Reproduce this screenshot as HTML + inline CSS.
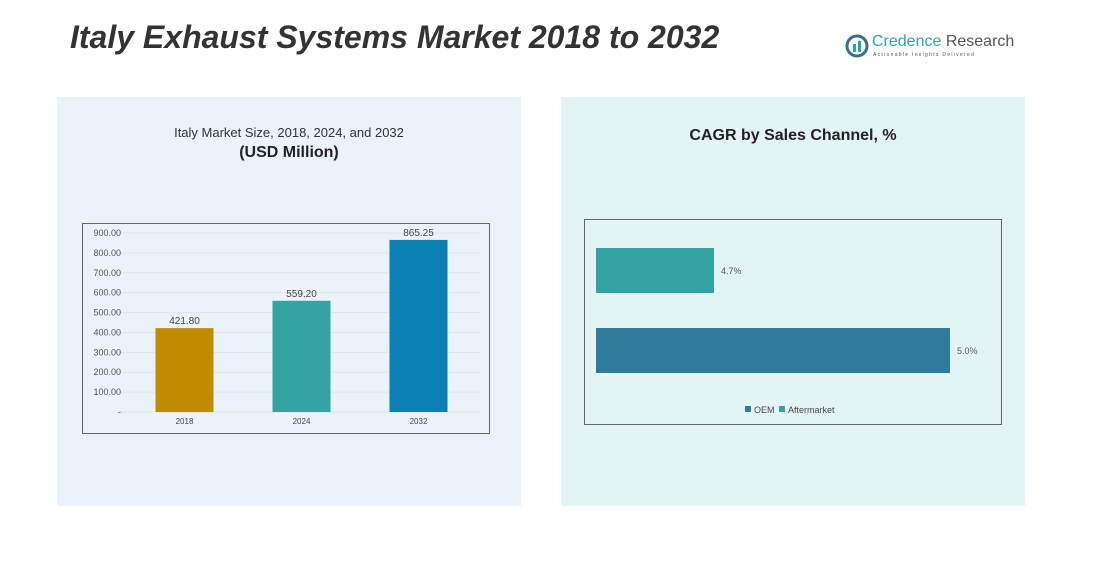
<!DOCTYPE html>
<html><head><meta charset="utf-8"><style>
body{margin:0;width:1116px;height:582px;background:#fff;font-family:"Liberation Sans",sans-serif;position:relative;overflow:hidden}
.abs{position:absolute}
</style></head><body>
<div class="abs" style="left:70px;top:19px;font-size:32px;font-weight:bold;font-style:italic;color:#333">Italy Exhaust Systems Market 2018 to 2032</div>
<div class="abs" style="left:845px;top:32px;">
 <svg width="24" height="24" style="position:absolute;left:0;top:2px"><circle cx="12" cy="12" r="10" fill="none" stroke="#3a6f86" stroke-width="3"/><rect x="8" y="10" width="3" height="8" fill="#2ba3b5"/><rect x="13" y="7" width="3" height="11" fill="#2ba3b5"/></svg>
 <div style="position:absolute;left:27px;top:1px;font-size:16px;color:#2ba3b5;white-space:nowrap">Credence <span style="color:#555">Research</span></div>
 <div style="position:absolute;left:28px;top:20px;font-size:5px;letter-spacing:1.3px;color:#555;white-space:nowrap">Actionable Insights Delivered</div>
</div>
<div class="abs" style="left:57px;top:97px;width:464px;height:409px;background:#eaf3f9"></div>
<div class="abs" style="left:561px;top:97px;width:464px;height:409px;background:#e3f4f4"></div>
<div class="abs" style="left:57px;top:125px;width:464px;text-align:center;font-size:13px;color:#333">Italy Market Size, 2018, 2024, and 2032</div>
<div class="abs" style="left:57px;top:144px;width:464px;text-align:center;font-size:16px;font-weight:bold;color:#222">(USD Million)</div>
<div class="abs" style="left:561px;top:127px;width:464px;text-align:center;font-size:16px;font-weight:bold;color:#222">CAGR by Sales Channel, %</div>
<svg class="abs" style="left:0;top:0" width="1116" height="582" id="svg">
 <rect x="82.5" y="223.5" width="407" height="210" fill="none" stroke="#666"/>
 <rect x="584.5" y="219.5" width="417" height="205" fill="none" stroke="#666"/>
 <g id="left"></g><g id="right"></g>
 <rect x="745" y="406" width="6" height="6" fill="#2e7b9a"/>
 <text x="754" y="413" font-size="9" fill="#444">OEM</text>
 <rect x="779" y="406" width="6" height="6" fill="#33a3a3"/>
 <text x="788" y="413" font-size="9" fill="#444">Aftermarket</text>
</svg>
<script>
const years=["2018","2024","2032"];
const sizes=[421.80,559.20,865.25];
const ticks=[0,100,200,300,400,500,600,700,800,900];
const channels=["Aftermarket","OEM"];
const cagr=[4.7,5.0];
const NS="http://www.w3.org/2000/svg";
function mk(t,a,p){const e=document.createElementNS(NS,t);for(const k in a)e.setAttribute(k,a[k]);p.appendChild(e);return e;}
const L=document.getElementById('left');
const y=v=>412-v*0.1989;
const xc=i=>184.5+i*117;
ticks.forEach(t=>{
 const g=mk('line',{x1:118,x2:480,y1:y(t),y2:y(t),stroke:'#dfe5ea'},L);
 
 
 const tx=mk('text',{x:121,y:y(t)+3,'font-size':9,fill:'#555','text-anchor':'end'},L);
 tx.textContent=t===0?'-':t.toFixed(2);
 
 
});
const cols=['#c08c00','#33a3a3','#0b80b3'];
years.forEach((yr,i)=>{
 const b=mk('rect',{x:xc(i)-29,y:y(sizes[i]),width:58,height:412-y(sizes[i]),fill:cols[i]},L);
 
 
 const v=mk('text',{x:xc(i),y:y(sizes[i])-4,'font-size':10,fill:'#444','text-anchor':'middle'},L);
 v.textContent=sizes[i].toFixed(2);
 
 
 const xl=mk('text',{x:xc(i),y:424,'font-size':8,fill:'#444','text-anchor':'middle'},L);
 xl.textContent=yr;
 
 
});
const R=document.getElementById('right');
const xr=v=>596+(v-4.55)*786.7;
const rowY=[248,328];
const rcols=['#33a3a3','#2e7b9a'];
channels.forEach((c,i)=>{
 const b=mk('rect',{x:596,y:rowY[i],width:xr(cagr[i])-596,height:45,fill:rcols[i]},R);
 
 
 const t=mk('text',{x:xr(cagr[i])+7,y:rowY[i]+26,'font-size':9,fill:'#555'},R);
 t.textContent=cagr[i].toFixed(1)+'%';
 
 
});
</script>
</body></html>
